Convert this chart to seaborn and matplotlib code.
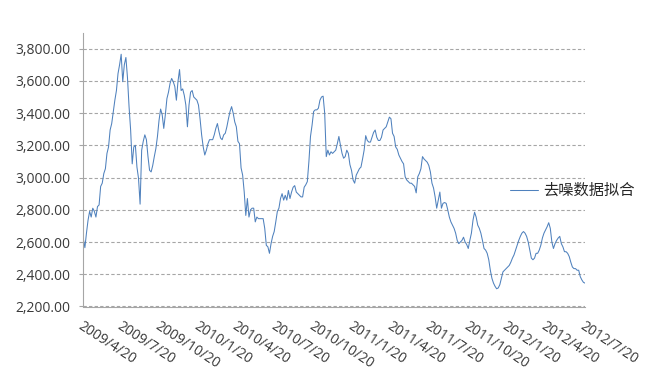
import numpy as np
import pandas as pd
import matplotlib
matplotlib.use("Agg")
import matplotlib.pyplot as plt
import seaborn as sns
from matplotlib.ticker import FuncFormatter

series_name = "去噪数据拟合"

tick_labels = ["2009/4/20", "2009/7/20", "2009/10/20", "2010/1/20", "2010/4/20",
               "2010/7/20", "2010/10/20", "2011/1/20", "2011/4/20", "2011/7/20",
               "2011/10/20", "2012/1/20", "2012/4/20", "2012/7/20"]

y_ticks = [2200, 2400, 2600, 2800, 3000, 3200, 3400, 3600, 3800]

# values, left to right
fit_values = [
    2620, 2565, 2655, 2735, 2790, 2755, 2810, 2790, 2755, 2820, 2830, 2945, 2965,
    3025, 3055, 3150, 3190, 3295, 3335, 3410, 3480, 3540, 3645, 3700, 3765, 3595,
    3700, 3745, 3620, 3440, 3295, 3085, 3190, 3200, 3065, 2995, 2835, 3170, 3225,
    3265, 3235, 3130, 3045, 3035, 3075, 3130, 3180, 3255, 3355, 3425,
    3390, 3305, 3390, 3490, 3530, 3585, 3615, 3595, 3565, 3480, 3595, 3670, 3540,
    3550, 3510, 3450, 3315, 3450, 3530, 3540, 3500, 3490, 3480, 3450, 3365, 3265,
    3190, 3140, 3170, 3210, 3235, 3235, 3235, 3265, 3305, 3335, 3285, 3245, 3235,
    3265, 3275, 3315, 3365, 3410, 3440, 3400, 3345, 3315, 3225, 3210,
    3060, 3015, 2910, 2765, 2870, 2755, 2800, 2810, 2810, 2725, 2755, 2745, 2745,
    2745, 2745, 2685, 2580, 2570, 2530, 2590, 2635, 2665, 2725, 2790, 2810, 2870,
    2900, 2860, 2890, 2860, 2920, 2870, 2910, 2940, 2950, 2910, 2900, 2890, 2880,
    2880, 2940, 2955, 2975, 3100, 3255, 3325, 3410, 3420, 3420, 3430, 3480, 3500, 3505,
    3400, 3130, 3170, 3140, 3160, 3150, 3160, 3170, 3210, 3255, 3200, 3150, 3120,
    3130, 3170, 3150, 3080, 3045, 2985, 2965, 3015, 3035, 3055, 3065, 3115, 3170,
    3260, 3230, 3220, 3220, 3250, 3280, 3295, 3250, 3230, 3230, 3250, 3295, 3305,
    3315, 3345, 3375, 3365, 3275, 3255, 3190, 3175, 3140, 3120, 3100,
    3085, 3005, 2985, 2975, 2965, 2965, 2955, 2945, 2905, 3005, 3025, 3055, 3130,
    3115, 3105, 3095, 3075, 3035, 2965, 2935, 2880, 2810, 2860, 2910, 2810, 2840,
    2845, 2840, 2800, 2755, 2725, 2705, 2685, 2655, 2610, 2590, 2600, 2610, 2630,
    2600, 2585, 2560, 2610, 2655, 2735, 2785, 2755, 2705, 2685, 2655, 2610, 2560, 2550,
    2530, 2490, 2425, 2375, 2345, 2325, 2310, 2315, 2335, 2375, 2415, 2425, 2435,
    2445, 2455, 2475, 2500, 2520, 2550, 2580, 2610, 2635, 2655, 2665, 2655, 2635,
    2600, 2550, 2500, 2490, 2500, 2530, 2530, 2550, 2580, 2625, 2655, 2675, 2695,
    2720, 2685, 2600, 2560, 2590, 2610, 2625, 2635, 2590, 2570, 2540, 2540, 2530,
    2510, 2475, 2445, 2435, 2435, 2425, 2425, 2385, 2365, 2350, 2345,
]

df = pd.DataFrame({
    "idx": np.arange(len(fit_values)),
    "value": fit_values,
    "series": series_name,
})

sns.set_style("white")
plt.rcParams["font.family"] = ["Open Sans", "Noto Sans CJK SC", "DejaVu Sans"]

fig = plt.figure(figsize=(6.5, 3.8), dpi=100)
ax = fig.add_axes([83.3 / 650, 1 - 306.5 / 380, (585 - 83.3) / 650, (306.5 - 32.5) / 380])

sns.lineplot(data=df, x="idx", y="value", hue="series", palette=["#4F81BD"],
             linewidth=0.75, ax=ax)

ax.set_xlim(0, len(fit_values) - 1)
ax.set_ylim(2200, 3900)
ax.set_yticks(y_ticks)
ax.yaxis.set_major_formatter(FuncFormatter(lambda v, p: f"{v:,.2f}"))

ax.set_xticks(np.linspace(0, len(fit_values) - 1, len(tick_labels)))
ax.set_xticklabels(tick_labels, rotation=-33, ha="left", va="top", rotation_mode="anchor")
ax.tick_params(axis="x", length=0, pad=9, labelsize=10, labelcolor="#3a3a3a")
ax.tick_params(axis="y", length=3, width=0.8, color="#a6a6a6", direction="out",
               left=True, pad=6, labelsize=10, labelcolor="#3a3a3a")

ax.grid(axis="y", linestyle=(0, (3, 2)), color="#a6a6a6", linewidth=0.8)
ax.grid(axis="x", visible=False)
for side in ["top", "right"]:
    ax.spines[side].set_visible(False)
for side in ["left", "bottom"]:
    ax.spines[side].set_color("#a6a6a6")
    ax.spines[side].set_linewidth(0.8)
ax.set_xlabel("")
ax.set_ylabel("")

handles, labels = ax.get_legend_handles_labels()
ax.legend(handles, labels, loc="center left", bbox_to_anchor=(510 / 650, 1 - 190.5 / 380),
          bbox_transform=fig.transFigure, frameon=False, borderpad=0, borderaxespad=0,
          handlelength=1.8, handletextpad=0.35,
          prop={"family": ["Noto Sans CJK SC"], "size": 11})

fig.savefig("out.png", dpi=100)
